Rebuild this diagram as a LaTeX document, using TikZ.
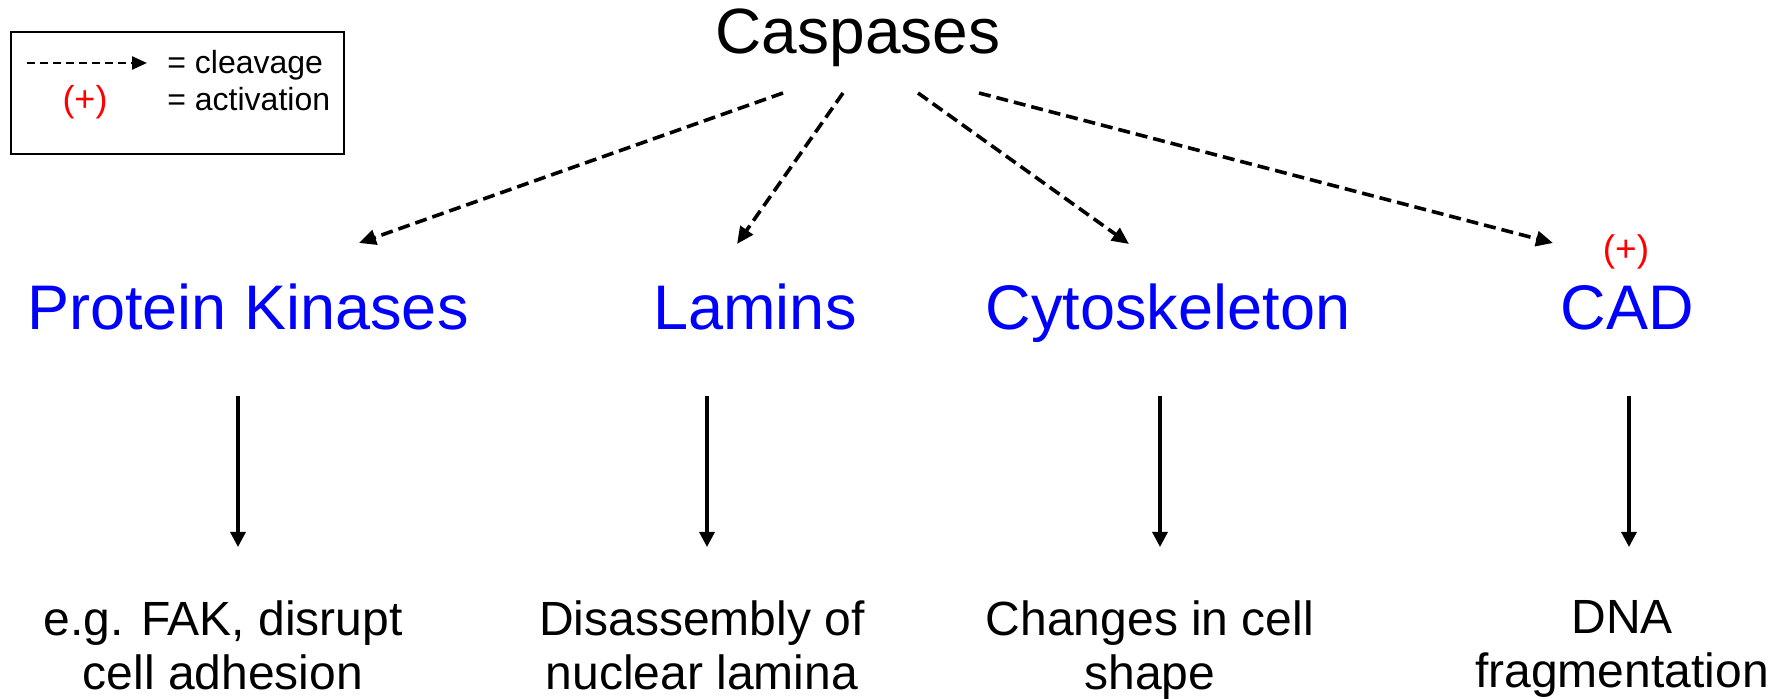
\documentclass[tikz,border=0pt]{standalone}
\usepackage{fontspec}
\setmainfont{Liberation Sans}
\usetikzlibrary{arrows.meta}

\begin{document}
\begin{tikzpicture}[x=0.5pt, y=-0.5pt,
    cleave/.style={line width=1.8pt, dash pattern=on 6pt off 3pt, -{Triangle[length=8.5pt, width=7.5pt]}},
    leads/.style={line width=1.6pt, -{Triangle[length=7.5pt, width=7.5pt]}},
    target/.style={inner sep=0pt, anchor=base, text=blue, font=\fontsize{31.5}{36}\selectfont},
    outcome/.style={inner sep=0pt, anchor=north, align=center, font=\fontsize{24}{27}\selectfont},
    legtext/.style={inner sep=0pt, anchor=base west, font=\fontsize{16}{19}\selectfont}]
      \useasboundingbox (0,0) rectangle (1788,699);

      \draw[line width=1pt] (11,32) rectangle (344,154);
      \coordinate (l1) at (27,63);
      \coordinate (l2) at (147,63);
      \draw[line width=1.2pt, dash pattern=on 4pt off 2.5pt, -{Triangle[length=7.5pt, width=6.5pt]}] (l1) -- (l2);
      \node[legtext] (cl) at (167,74) {= cleavage};
      \node[legtext] (ac) at (167,111) {= activation};
      \node[inner sep=0pt, anchor=base, text=red, font=\fontsize{18}{21}\selectfont] (plus) at (85,112) {(+)};

      \node[inner sep=0pt, anchor=base, font=\fontsize{32}{37}\selectfont] (casp) at (858,54) {Caspases};

      \node[target] (pk) at (248,330) {Protein Kinases};
      \node[target] (lam) at (755,330) {Lamins};
      \node[target] (cyt) at (1168,330) {Cytoskeleton};
      \node[target] (cad) at (1627,330) {CAD};
      \node[inner sep=0pt, anchor=base, text=red, font=\fontsize{18.5}{22}\selectfont] (cadplus) at (1626,262) {(+)};

      \node[outcome] (pkout) at (223,600) {e.g. FAK, disrupt\\cell adhesion};
      \node[outcome] (lamout) at (702,600) {Disassembly of\\nuclear lamina};
      \node[outcome] (cytout) at (1150,600) {Changes in cell\\shape};
      \node[outcome] (cadout) at (1622,600) {DNA\\fragmentation};

      \coordinate (s1) at (783,93);
      \coordinate (s2) at (843,93);
      \coordinate (s3) at (918,93);
      \coordinate (s4) at (979,93);
      \coordinate (e1) at (359,243);
      \coordinate (e2) at (737,244);
      \coordinate (e3) at (1129,244);
      \coordinate (e4) at (1553,243);

      \draw[cleave] (s1) -- (e1);
      \draw[cleave] (s2) -- (e2);
      \draw[cleave] (s3) -- (e3);
      \draw[cleave] (s4) -- (e4);

      \coordinate (d1) at (238,396);
      \coordinate (d2) at (707,396);
      \coordinate (d3) at (1160,396);
      \coordinate (d4) at (1629,396);
      \coordinate (f1) at (238,547);
      \coordinate (f2) at (707,547);
      \coordinate (f3) at (1160,547);
      \coordinate (f4) at (1629,547);

      \draw[leads] (d1) -- (f1);
      \draw[leads] (d2) -- (f2);
      \draw[leads] (d3) -- (f3);
      \draw[leads] (d4) -- (f4);
    \end{tikzpicture}
\end{document}
